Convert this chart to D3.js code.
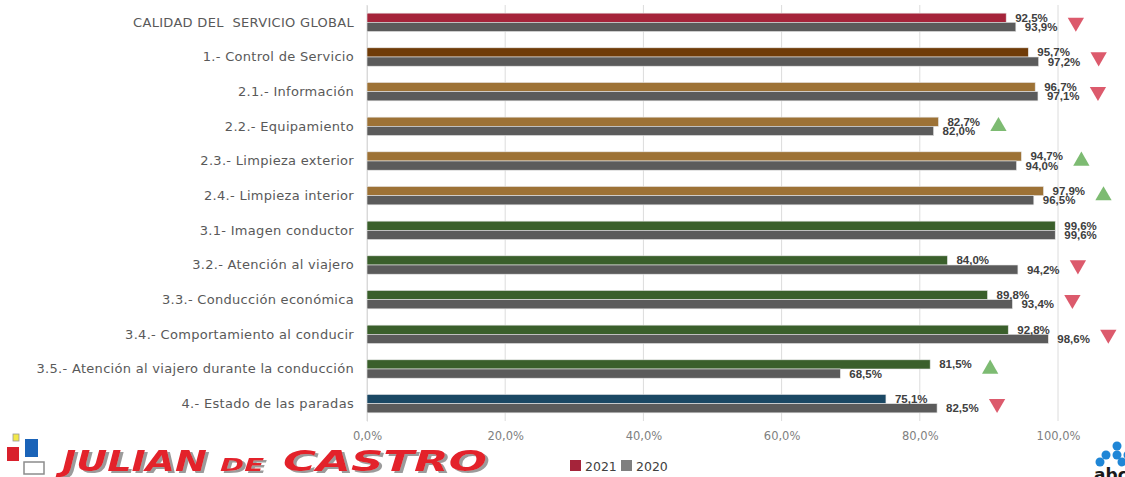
<!DOCTYPE html>
<html>
<head>
<meta charset="utf-8">
<script src="https://cdn.jsdelivr.net/npm/d3@7"></script>
<style>
  body { margin: 0; background: #fff; }
  svg { display: block; font-family: "DejaVu Sans", sans-serif; }
</style>
</head>
<body>
<svg id="chart" width="1125" height="477"></svg>
<script>
// data
const categories = [
  "CALIDAD DEL  SERVICIO GLOBAL",
  "1.- Control de Servicio",
  "2.1.- Información",
  "2.2.- Equipamiento",
  "2.3.- Limpieza exterior",
  "2.4.- Limpieza interior",
  "3.1- Imagen conductor",
  "3.2.- Atención al viajero",
  "3.3.- Conducción económica",
  "3.4.- Comportamiento al conducir",
  "3.5.- Atención al viajero durante la conducción",
  "4.- Estado de las paradas"
];
const groups = ["global", "1", "2", "2", "2", "2", "3", "3", "3", "3", "3", "4"];
const values2021 = [92.5, 95.7, 96.7, 82.7, 94.7, 97.9, 99.6, 84.0, 89.8, 92.8, 81.5, 75.1];
const values2020 = [93.9, 97.2, 97.1, 82.0, 94.0, 96.5, 99.6, 94.2, 93.4, 98.6, 68.5, 82.5];
const series = ["2021", "2020"];
const xTicks = [0, 20, 40, 60, 80, 100];

const groupColor = d3.scaleOrdinal()
  .domain(["global", "1", "2", "3", "4"])
  .range(["#a5243a", "#6f3b08", "#9d7236", "#3a5f2b", "#1b4864"]);
const grey = "#5b5b5b";

const locale = d3.formatLocale({ decimal: ",", thousands: ".", grouping: [3], currency: ["", "€"] });
const fmt = locale.format(".1f");

const svg = d3.select("#chart");
const margin = { top: 5, left: 367 };
const plotW = 691, plotH = 416;

const x = d3.scaleLinear().domain([0, 100]).range([margin.left, margin.left + plotW]);
const y = d3.scaleBand().domain(categories).range([margin.top, margin.top + plotH]).paddingInner(0.47).paddingOuter(0.235);
const ySub = d3.scaleBand().domain(series).range([0, y.bandwidth()]);

// grid
svg.append("g")
  .selectAll("line")
  .data(xTicks)
  .enter()
  .append("line")
  .attr("x1", d => x(d)).attr("x2", d => x(d))
  .attr("y1", margin.top).attr("y2", margin.top + plotH)
  .attr("stroke", "#dcdcdc")
  .attr("stroke-width", 1);

// x axis labels
const xAxis = svg.append("g")
  .attr("transform", `translate(0,${margin.top + plotH})`)
  .call(d3.axisBottom(x).tickValues(xTicks).tickSize(0).tickPadding(11).tickFormat(d => fmt(d) + "%"));
xAxis.select(".domain").remove();
xAxis.selectAll("text")
  .attr("fill", "#808080")
  .attr("font-size", "11.5px")
  .attr("font-family", "DejaVu Sans, sans-serif");

// category labels
const yAxis = svg.append("g")
  .attr("transform", `translate(${margin.left},0)`)
  .call(d3.axisLeft(y).tickSize(0).tickPadding(13));
yAxis.select(".domain").attr("stroke", "#d9d9d9");
yAxis.selectAll("text")
  .attr("fill", "#595959")
  .attr("font-size", "13px")
  .attr("letter-spacing", "0.3px")
  .style("white-space", "pre")
  .attr("font-family", "DejaVu Sans, sans-serif");

const rows = categories.map((c, i) => ({
  cat: c, group: groups[i], v2021: values2021[i], v2020: values2020[i]
}));

const row = svg.append("g")
  .selectAll("g")
  .data(rows)
  .enter()
  .append("g")
  .attr("transform", d => `translate(0,${y(d.cat)})`);

// bars
row.append("rect")
  .attr("x", x(0))
  .attr("y", ySub("2021"))
  .attr("width", d => x(d.v2021) - x(0))
  .attr("height", ySub.bandwidth())
  .attr("fill", d => groupColor(d.group))
  .attr("stroke", "#e6e6e6")
  .attr("stroke-width", 0.6);

row.append("rect")
  .attr("x", x(0))
  .attr("y", ySub("2020"))
  .attr("width", d => x(d.v2020) - x(0))
  .attr("height", ySub.bandwidth())
  .attr("fill", grey)
  .attr("stroke", "#e6e6e6")
  .attr("stroke-width", 0.6);

// value labels
row.append("text")
  .attr("x", d => x(d.v2021) + 9)
  .attr("y", ySub("2021") + ySub.bandwidth() / 2)
  .attr("dy", "0.35em")
  .attr("font-size", "11.5px")
  .attr("font-weight", "bold")
  .attr("font-family", "Liberation Sans, sans-serif")
  .attr("fill", "#404040")
  .text(d => fmt(d.v2021) + "%");

row.append("text")
  .attr("x", d => x(d.v2020) + 9)
  .attr("y", ySub("2020") + ySub.bandwidth() / 2)
  .attr("dy", "0.35em")
  .attr("font-size", "11.5px")
  .attr("font-weight", "bold")
  .attr("font-family", "Liberation Sans, sans-serif")
  .attr("fill", "#404040")
  .text(d => fmt(d.v2020) + "%");

// trend triangles
const tri = d3.symbol().type(d3.symbolTriangle).size(115);
row.filter(d => d.v2021 !== d.v2020)
  .append("path")
  .attr("d", tri)
  .attr("transform", d => {
    const cx = x(Math.max(d.v2021, d.v2020)) + 60;
    const cy = y.bandwidth() / 2;
    return `translate(${cx},${cy}) rotate(${d.v2021 > d.v2020 ? 0 : 180})`;
  })
  .attr("fill", d => d.v2021 > d.v2020 ? "#7dbb72" : "#dc5a6c");

// legend
const legend = svg.append("g").attr("transform", "translate(570,460)");
const legendItems = legend.selectAll("g")
  .data(series)
  .enter()
  .append("g")
  .attr("transform", (d, i) => `translate(${i * 51},0)`);
legendItems.append("rect")
  .attr("width", 11).attr("height", 11)
  .attr("fill", d => d === "2021" ? "#a5243a" : "#7f7f7f");
legendItems.append("text")
  .attr("x", 15).attr("y", 10.5)
  .attr("font-size", "12.5px")
  .attr("fill", "#404040")
  .text(d => d);

// company logo (left)
const defs = svg.append("defs");
defs.append("filter").attr("id", "shadow")
  .attr("x", "-5%").attr("y", "-20%").attr("width", "115%").attr("height", "150%")
  .append("feDropShadow")
  .attr("dx", 3).attr("dy", 2).attr("stdDeviation", 0.3)
  .attr("flood-color", "#9b9b9b").attr("flood-opacity", 1);

const logo = svg.append("g");
logo.append("rect").attr("x", 13).attr("y", 434).attr("width", 6).attr("height", 7).attr("fill", "#f2e84a").attr("stroke", "#9a9a9a").attr("stroke-width", 0.8);
logo.append("rect").attr("x", 7).attr("y", 447).attr("width", 12).attr("height", 14).attr("fill", "#d9202c");
logo.append("rect").attr("x", 25).attr("y", 439).attr("width", 13).attr("height", 18).attr("fill", "#1a63b8");
logo.append("rect").attr("x", 24).attr("y", 462).attr("width", 20).attr("height", 12).attr("fill", "#fff").attr("stroke", "#8c8c8c").attr("stroke-width", 1.5);

const brand = [
  { t: "JULIAN", x: 62, size: 28, len: 145 },
  { t: "DE", x: 220, size: 17, len: 44 },
  { t: "CASTRO", x: 283, size: 28, len: 204 }
];
logo.append("g")
  .attr("filter", "url(#shadow)")
  .selectAll("text")
  .data(brand)
  .enter()
  .append("text")
  .attr("x", d => d.x)
  .attr("y", 471)
  .attr("font-size", d => d.size + "px")
  .attr("font-weight", "bold")
  .attr("font-style", "italic")
  .attr("font-family", "DejaVu Sans, sans-serif")
  .attr("textLength", d => d.len)
  .attr("lengthAdjust", "spacingAndGlyphs")
  .attr("fill", "#e3202c")
  .text(d => d.t);

// abc logo (right, clipped)
const abc = svg.append("g");
[[1117, 446], [1106, 455], [1117, 455], [1128, 455], [1100, 462], [1122, 462]].forEach(p => {
  abc.append("circle").attr("cx", p[0]).attr("cy", p[1]).attr("r", 4.5).attr("fill", "#1f86d6");
});
abc.append("text")
  .attr("x", 1094).attr("y", 481)
  .attr("font-size", "17px")
  .attr("font-weight", "bold")
  .attr("fill", "#1a1a1a")
  .text("abc");
</script>
</body>
</html>
